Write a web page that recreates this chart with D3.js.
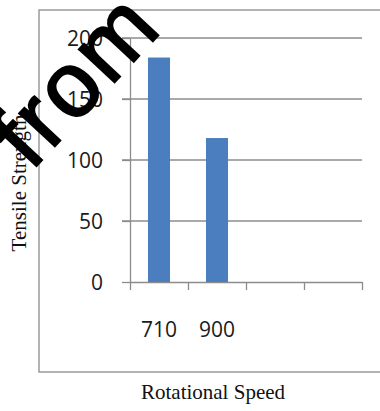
<!DOCTYPE html>
<meta charset="utf-8">
<style>
body { margin: 0; background: #fff; }
.grid line { stroke: #8c8c8c; stroke-width: 1.3px; }
.axis path, .axis line { stroke: #8c8c8c; stroke-width: 1.3px; }
.axis text { font-family: "Open Sans", sans-serif; font-size: 21px; fill: #1a1a1a; }
.title { font-family: "Liberation Serif", serif; font-size: 21px; fill: #111; }
.bar { fill: #4a7ebe; }
</style>
<div id="chart"></div>
<script src="https://d3js.org/d3.v7.min.js"></script>
<script>
// values
var speeds = ["710", "900", "", ""];
var strength = [184, 118];
var yTicks = [0, 50, 100, 150, 200];

var width = 380, height = 411;
var plot = {left: 130, right: 362, top: 38, bottom: 282};

var svg = d3.select("#chart").append("svg")
    .attr("width", width)
    .attr("height", height);

svg.append("rect")
    .attr("width", width).attr("height", height)
    .attr("fill", "#fff");

// outer chart frame (right edge runs off the picture)
svg.append("rect")
    .attr("x", 39).attr("y", 10)
    .attr("width", 360).attr("height", 362)
    .attr("fill", "none")
    .attr("stroke", "#9a9a9a")
    .attr("stroke-width", 1.5);

var x = d3.scaleBand()
    .domain(d3.range(speeds.length))
    .range([plot.left, plot.right])
    .paddingInner(0.62)
    .paddingOuter(0.31);

var y = d3.scaleLinear()
    .domain([0, 200])
    .range([plot.bottom, plot.top]);

// gridlines
svg.append("g")
    .attr("class", "grid")
    .selectAll("line")
    .data(yTicks.filter(function(d) { return d > 0; }))
    .enter().append("line")
    .attr("x1", plot.left - 8).attr("x2", plot.right)
    .attr("y1", function(d) { return y(d); })
    .attr("y2", function(d) { return y(d); });

// y axis
var yAxis = svg.append("g")
    .attr("class", "axis")
    .attr("transform", "translate(" + plot.left + ",0)")
    .call(d3.axisLeft(y).tickValues(yTicks).tickSize(8).tickPadding(19).tickSizeOuter(0));
yAxis.selectAll("text").attr("dy", "0.36em");

// x axis: ticks at category boundaries
var xb = d3.scaleLinear().domain([0, speeds.length]).range([plot.left, plot.right]);
svg.append("g")
    .attr("class", "axis")
    .attr("transform", "translate(0," + plot.bottom + ")")
    .call(d3.axisBottom(xb).ticks(speeds.length).tickFormat("").tickSize(8).tickSizeOuter(0));

// category labels
svg.append("g")
    .attr("class", "axis")
    .selectAll("text")
    .data(speeds)
    .enter().append("text")
    .attr("x", function(d, i) { return x(i) + x.bandwidth() / 2; })
    .attr("y", 337)
    .attr("text-anchor", "middle")
    .text(function(d) { return d; });

// bars
svg.selectAll(".bar")
    .data(strength)
    .enter().append("rect")
    .attr("class", "bar")
    .attr("x", function(d, i) { return x(i); })
    .attr("width", x.bandwidth())
    .attr("y", function(d) { return y(d); })
    .attr("height", function(d) { return y(0) - y(d); });

// axis titles
svg.append("text")
    .attr("class", "title")
    .attr("text-anchor", "middle")
    .attr("x", 213).attr("y", 399)
    .text("Rotational Speed");

svg.append("text")
    .attr("class", "title")
    .attr("text-anchor", "middle")
    .attr("transform", "translate(26,183)rotate(-90)")
    .text("Tensile Strength");

// watermark lying across the chart
svg.append("text")
    .attr("transform", "translate(31,172)rotate(-47)")
    .style("font-family", "Liberation Sans, sans-serif")
    .style("font-size", "92px")
    .style("letter-spacing", "3px")
    .attr("fill", "#000")
    .attr("stroke", "#000")
    .attr("stroke-width", 2)
    .text("from");
</script>
